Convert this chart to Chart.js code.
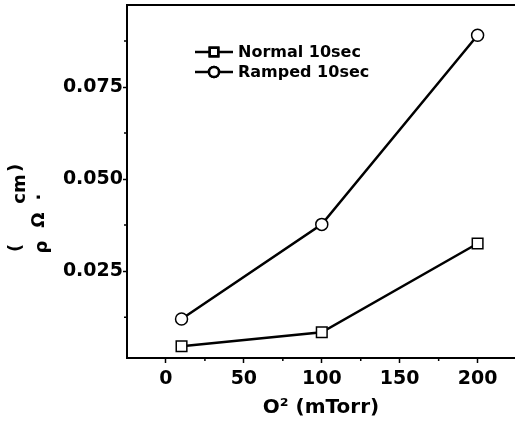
<!DOCTYPE html>
<html>
<head>
<meta charset="utf-8">
<title>Resistivity vs O2 pressure</title>
<script src="https://cdn.jsdelivr.net/npm/chart.js@4/dist/chart.umd.min.js"></script>
<style>
  html, body { margin: 0; padding: 0; background: #fff; }
  canvas { display: block; }
</style>
</head>
<body>
<canvas id="chart" width="515" height="429"></canvas>
<script>
// data
const pressure = [10, 100, 200];             // O2 (mTorr)
const normal10 = [0.0046, 0.0084, 0.0325];   // Normal 10sec
const ramped10 = [0.0120, 0.0377, 0.0891];   // Ramped 10sec

const xTicks = [0, 50, 100, 150, 200];
const xMinor = [25, 75, 125, 175];
const yTicks = [0.025, 0.050, 0.075];
const yMinor = [0.0125, 0.0375, 0.0625, 0.0875];

const FONT = 'DejaVu Sans';

// top frame line + minor ticks
const framePlugin = {
    id: 'frame',
    afterDraw(chart) {
        const { ctx, chartArea, scales } = chart;
        ctx.save();
        ctx.strokeStyle = '#000';
        ctx.lineWidth = 2;
        ctx.beginPath();
        ctx.moveTo(chartArea.left, chartArea.top);
        ctx.lineTo(chartArea.right, chartArea.top);
        ctx.stroke();

        ctx.lineWidth = 1.5;
        ctx.beginPath();
        xMinor.forEach(v => {
            const px = scales.x.getPixelForValue(v);
            ctx.moveTo(px, chartArea.bottom);
            ctx.lineTo(px, chartArea.bottom + 3);
        });
        yMinor.forEach(v => {
            const py = scales.y.getPixelForValue(v);
            ctx.moveTo(chartArea.left - 3, py);
            ctx.lineTo(chartArea.left, py);
        });
        ctx.stroke();
        ctx.restore();
    }
};

// rotated y label "(ρ Ω · cm)" with the subscripted pieces as in the scan
const yTitlePlugin = {
    id: 'yTitle',
    afterDraw(chart) {
        const { ctx } = chart;
        const parts = [
            { t: '(', x: 16, y: 248 },
            { t: 'ρ', x: 42, y: 247 },
            { t: 'Ω', x: 39, y: 220 },
            { t: '·', x: 40, y: 197 },
            { t: 'cm', x: 20, y: 189 },
            { t: ')', x: 16, y: 168 }
        ];
        ctx.save();
        ctx.fillStyle = '#000';
        ctx.font = 'bold 18px ' + FONT;
        ctx.textAlign = 'center';
        ctx.textBaseline = 'middle';
        parts.forEach(p => {
            ctx.save();
            ctx.translate(p.x, p.y);
            ctx.rotate(-Math.PI / 2);
            ctx.fillText(p.t, 0, 0);
            ctx.restore();
        });
        ctx.restore();
    }
};

// legend drawn inside the plot: line - marker - line, then label
const insideLegend = {
    id: 'insideLegend',
    afterDraw(chart, args, opts) {
        const { ctx } = chart;
        ctx.save();
        ctx.font = 'bold 16px ' + FONT;
        ctx.textBaseline = 'middle';
        ctx.textAlign = 'left';
        chart.data.datasets.forEach((ds, i) => {
            const y = opts.y + i * opts.rowGap;
            ctx.strokeStyle = '#000';
            ctx.lineWidth = 2.5;
            ctx.beginPath();
            ctx.moveTo(opts.x, y);
            ctx.lineTo(opts.x + opts.lineLen, y);
            ctx.stroke();
            Chart.helpers.drawPoint(ctx, {
                pointStyle: ds.pointStyle,
                radius: ds.pointStyle === 'rect' ? 6 : 5,
                borderWidth: 1.5
            }, opts.x + opts.lineLen / 2, y);
            ctx.fillStyle = '#fff';
            ctx.fill();
            ctx.stroke();
            ctx.fillStyle = '#000';
            ctx.fillText(ds.label, opts.x + opts.lineLen + 5, y + 1);
        });
        ctx.restore();
    }
};

const toPoints = ys => pressure.map((x, i) => ({ x: x, y: ys[i] }));

new Chart(document.getElementById('chart'), {
    type: 'line',
    data: {
        datasets: [{
            label: 'Normal 10sec',
            data: toPoints(normal10),
            borderColor: '#000',
            borderWidth: 2.5,
            pointStyle: 'rect',
            pointRadius: 7.5,
            pointBorderWidth: 1.5,
            pointBackgroundColor: '#fff',
            pointBorderColor: '#000',
            tension: 0
        }, {
            label: 'Ramped 10sec',
            data: toPoints(ramped10),
            borderColor: '#000',
            borderWidth: 2.5,
            pointStyle: 'circle',
            pointRadius: 6,
            pointBorderWidth: 1.5,
            pointBackgroundColor: '#fff',
            pointBorderColor: '#000',
            tension: 0
        }]
    },
    options: {
        responsive: false,
        animation: false,
        clip: false,
        layout: { autoPadding: false, padding: { top: 5, right: 0, left: 0, bottom: 0 } },
        plugins: {
            legend: { display: false },
            tooltip: { enabled: false },
            insideLegend: { x: 195, y: 52, rowGap: 20, lineLen: 38 }
        },
        scales: {
            x: {
                type: 'linear',
                min: -25,
                max: 224,
                afterBuildTicks: scale => { scale.ticks = xTicks.map(v => ({ value: v })); },
                afterFit: scale => {
                    scale.height = 71;
                    scale.paddingLeft = 0;
                    scale.paddingRight = 0;
                },
                grid: { drawOnChartArea: false, tickLength: 5, tickColor: '#000', tickWidth: 1.5 },
                border: { color: '#000', width: 2 },
                ticks: {
                    color: '#000',
                    padding: 5,
                    maxRotation: 0,
                    font: { family: FONT, size: 19, weight: 'bold' }
                },
                title: {
                    display: true,
                    text: 'O² (mTorr)',
                    color: '#000',
                    padding: { top: 0, bottom: 9 },
                    font: { family: FONT, size: 20, weight: 'bold' }
                }
            },
            y: {
                min: 0.0014,
                max: 0.0973,
                afterBuildTicks: scale => { scale.ticks = yTicks.map(v => ({ value: v })); },
                afterFit: scale => {
                    scale.width = 127;
                    scale.paddingTop = 0;
                    scale.paddingBottom = 0;
                },
                grid: { drawOnChartArea: false, tickLength: 4, tickColor: '#000', tickWidth: 1.5 },
                border: { color: '#000', width: 2 },
                ticks: {
                    color: '#000',
                    padding: 0,
                    callback: v => v.toFixed(3),
                    font: { family: FONT, size: 19, weight: 'bold' }
                }
            }
        }
    },
    plugins: [framePlugin, yTitlePlugin, insideLegend]
});
</script>
</body>
</html>
